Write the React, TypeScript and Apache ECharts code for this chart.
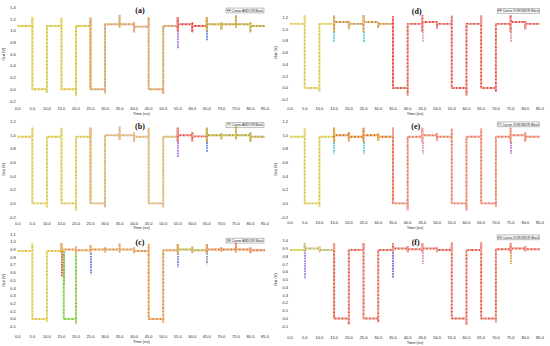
import React, { useEffect, useRef } from "react";
import * as echarts from "echarts";

// ---------- data ----------
const X_MIN = 0;
const X_MAX = 85;
const X_STEP = 5;
// times of the input transitions (ns)
const BOUND_T = [5, 10, 15, 20, 25, 30, 35, 40, 45, 50, 55, 60, 65, 70, 75, 80];

// (a) FF corner AND/OR : level of each 5 ns segment, spike top / bottom at each transition
const A_LEVEL = [1.08, 0, 1.08, 0, 1.08, 0, 1.11, 1.11, 1.07, 0, 1.08, 1.11, 1.08, 1.11, 1.11, 1.11, 1.08];
const A_HI = [1.23, 1.08, 1.22, 1.08, 1.22, 1.11, 1.27, 1.15, 1.23, 1.08, 1.23, 1.15, 1.23, 1.14, 1.27, 1.15];
const A_LO = [0, -0.06, 0, -0.12, 0, -0.07, 1.05, 0.97, 0, -0.08, 1.0, 0.97, 1.0, 1.02, 1.05, 0.97];
const A_GLITCH = [[55, 1.0, 0.7], [65, 1.0, 0.82]];

// (b) TT corner AND/OR
const B_LEVEL = [0.98, 0, 0.98, 0, 0.98, 0, 1.0, 1.0, 0.98, 0, 0.98, 1.0, 0.985, 1.0, 1.0, 1.0, 0.98];
const B_HI = [1.12, 0.98, 1.11, 0.98, 1.11, 1.0, 1.13, 1.05, 1.11, 0.98, 1.11, 1.05, 1.11, 1.03, 1.14, 1.05];
const B_LO = [0, -0.06, 0, -0.11, 0, -0.06, 0.93, 0.9, 0, -0.06, 0.9, 0.91, 0.9, 0.94, 0.94, 0.9];
const B_GLITCH = [[55, 0.9, 0.67], [65, 0.9, 0.75]];

// (c) SS corner AND/OR
const C_LEVEL = [0.88, 0, 0.88, 0.9, 0.89, 0.9, 0.9, 0.9, 0.88, 0, 0.89, 0.9, 0.89, 0.9, 0.9, 0.9, 0.89];
const C_HI = [0.98, 0.88, 0.98, 0.94, 0.96, 0.93, 0.98, 0.93, 0.97, 0.89, 0.97, 0.94, 0.97, 0.93, 0.99, 0.93];
const C_LO = [0, -0.04, 0.85, 0.86, 0.85, 0.86, 0.86, 0.85, 0, -0.05, 0.85, 0.85, 0.85, 0.87, 0.86, 0.85];
const C_GLITCH = [[15, 0.88, 0.55], [15.8, 0.88, 0.46], [25, 0.85, 0.58], [55, 0.85, 0.67], [65, 0.85, 0.71]];
const C_FAIL = [[15.8, 0.88], [15.8, 0], [20, 0], [20, -0.06], [20, 0.89]];

// (d) FF corner XOR/XNOR
const D_LEVEL = [1.09, 0, 1.09, 1.12, 1.09, 1.12, 1.09, 0, 1.09, 1.12, 1.09, 0, 1.09, 0, 1.09, 1.12, 1.09];
const D_HI = [1.23, 1.09, 1.23, 1.14, 1.24, 1.13, 1.22, 1.09, 1.24, 1.13, 1.23, 1.09, 1.23, 1.09, 1.24, 1.14];
const D_LO = [0, -0.06, 0.95, 1.0, 0.95, 1.02, 0, -0.13, 0.95, 1.01, 0, -0.13, 0, -0.07, 0.95, 1.0];
const D_GLITCH = [[15, 0.95, 0.78], [25, 0.95, 0.77], [45, 0.95, 0.78], [75, 0.95, 0.78]];

// (e) TT corner XOR/XNOR
const E_LEVEL = [0.98, 0, 0.98, 1.0, 0.98, 1.0, 0.98, 0, 0.98, 1.0, 0.98, 0, 0.98, 0, 0.98, 1.0, 0.98];
const E_HI = [1.1, 0.98, 1.11, 1.05, 1.11, 1.03, 1.11, 0.98, 1.11, 1.03, 1.1, 0.98, 1.1, 0.98, 1.11, 1.04];
const E_LO = [0, -0.05, 0.9, 0.91, 0.9, 0.92, 0, -0.1, 0.9, 0.92, 0, -0.1, 0, -0.05, 0.9, 0.91];
const E_GLITCH = [[15, 0.9, 0.73], [25, 0.9, 0.73], [45, 0.9, 0.73], [75, 0.9, 0.73]];

// (f) SS corner XOR/XNOR
const F_LEVEL = [0.88, 0.9, 0.88, 0, 0.88, 0, 0.88, 0.9, 0.89, 0.9, 0.88, 0, 0.88, 0, 0.89, 0.9, 0.89];
const F_HI = [0.97, 0.93, 0.97, 0.88, 0.97, 0.88, 0.97, 0.93, 0.97, 0.92, 0.98, 0.88, 0.98, 0.89, 0.97, 0.93];
const F_LO = [0.85, 0.85, 0, -0.08, 0, -0.05, 0.85, 0.85, 0.85, 0.85, 0, -0.08, 0, -0.05, 0.85, 0.86];
const F_GLITCH = [[5, 0.85, 0.51], [35, 0.85, 0.52], [45, 0.85, 0.7], [75, 0.85, 0.7]];

const LEGENDS = [
  "FF Corner AND/OR Block",
  "TT Corner AND/OR Block",
  "SS Corner AND/OR Block",
  "FF Corner XOR/XNOR Block",
  "TT Corner XOR/XNOR Block",
  "SS Corner XOR/XNOR Block",
];
const LETTERS = ["(a)", "(b)", "(c)", "(d)", "(e)", "(f)"];

// ---------- layout / style ----------
const PANELS: any[] = [
  {
    level: A_LEVEL, hi: A_HI, lo: A_LO, glitch: A_GLITCH,
    x: 0, top: 7.3, height: 93.7, yMin: -0.2, yMax: 1.4, yInt: 0.2, hideMax: false, xm: 5, xng: 10,
    title: [140, 10.7], box: [245, 10.5, 38],
    segs: [[0, 25, "#d2bc30", "#ecd870"], [25, 55, "#ccaa48", "#e6aa96"], [55, 65, "#e0342a", "#f09090"], [65, 85, "#b49636", "#d8c060"]],
    gcol: ["#9a68d8", "#5a74e0"],
  },
  {
    level: B_LEVEL, hi: B_HI, lo: B_LO, glitch: B_GLITCH,
    x: 0, top: 121.7, height: 95.3, yMin: -0.2, yMax: 1.2, yInt: 0.2, hideMax: false, xm: 4, xng: 8,
    title: [140, 126], box: [245, 125, 38],
    segs: [[0, 25, "#d4c03c", "#ecdc80"], [25, 55, "#d4b854", "#e8bca4"], [55, 65, "#e04436", "#f09c96"], [65, 85, "#a49c3a", "#d6c466"]],
    gcol: ["#aa68e0", "#5a74e0"],
  },
  {
    level: C_LEVEL, hi: C_HI, lo: C_LO, glitch: C_GLITCH,
    x: 0, top: 234, height: 92.7, yMin: -0.1, yMax: 1.1, yInt: 0.1, hideMax: false, xm: 8, xng: 12,
    title: [140, 242.7], box: [245, 240.7, 38],
    segs: [[0, 15, "#d8c23c", "#ecdc84"], [15, 55, "#de8a34", "#eeb888"], [55, 65, "#a4b440", "#dcb868"], [65, 85, "#de6a2e", "#eeaa7c"]],
    gcol: ["#e02c2c", "#5a6ce0", "#5a6ce0", "#6a7ad0", "#8088a0"],
    fail: C_FAIL,
  },
  {
    level: D_LEVEL, hi: D_HI, lo: D_LO, glitch: D_GLITCH,
    x: 275, top: 5.6, height: 94.1, yMin: -0.2, yMax: 1.4, yInt: 0.2, hideMax: true, xm: 6.6, xng: 11.6,
    title: [416.7, 11], box: [518.5, 11, 42],
    segs: [[0, 15, "#d4c03c", "#ecdc84"], [15, 35, "#c4863a", "#e4b87a"], [35, 85, "#e04428", "#f29a9e"]],
    gcol: ["#48c4d6", "#48c4d6", "#ee98bc", "#de889a"],
  },
  {
    level: E_LEVEL, hi: E_HI, lo: E_LO, glitch: E_GLITCH,
    x: 275, top: 121.7, height: 95.3, yMin: -0.2, yMax: 1.2, yInt: 0.2, hideMax: false, xm: 3.7, xng: 8,
    title: [415.7, 126.7], box: [518.3, 124.3, 42],
    segs: [[0, 15, "#d4c23c", "#ecdc84"], [15, 35, "#de5c28", "#e4b654"], [35, 85, "#e67a36", "#f2a2ac"]],
    gcol: ["#48bcce", "#48bcce", "#de88bc", "#aa68d0"],
  },
  {
    level: F_LEVEL, hi: F_HI, lo: F_LO, glitch: F_GLITCH,
    x: 275, top: 232.9, height: 93.4, yMin: -0.1, yMax: 1.1, yInt: 0.1, hideMax: true, xm: 9, xng: 12,
    title: [415.7, 242.3], box: [518.3, 237.3, 42],
    segs: [[0, 5, "#d8c238", "#ecdc84"], [5, 15, "#b4aa58", "#dcd49c"], [15, 85, "#e05434", "#f29e9e"]],
    gcol: ["#9a68e0", "#5a5ae0", "#de88bc", "#cc9a38"],
  },
];

const DASH = 1.8;
const LINE_W = 1.9;

function wave(level: number[], hi: number[], lo: number[]) {
  const pts: number[][] = [[X_MIN, level[0]]];
  BOUND_T.forEach((t, i) => {
    const prev = level[i];
    const next = level[i + 1];
    if (next > prev) pts.push([t, prev], [t, lo[i]], [t, hi[i]], [t, next]);
    else pts.push([t, prev], [t, hi[i]], [t, lo[i]], [t, next]);
  });
  pts.push([X_MAX, level[level.length - 1]]);
  return pts;
}

const fmt = (v: number) => (Math.abs(v) < 1e-9 ? "0.0" : v.toFixed(1));

function lineSeries(i: number, data: number[][], color: string, offset: number, z: number) {
  return {
    type: "line",
    xAxisIndex: i,
    yAxisIndex: i,
    data,
    symbol: "none",
    showSymbol: false,
    silent: true,
    z,
    lineStyle: { color, width: LINE_W, type: [DASH, DASH], dashOffset: offset },
  };
}

function buildOption() {
  const grid: any[] = [];
  const xAxis: any[] = [];
  const yAxis: any[] = [];
  const series: any[] = [];
  const graphic: any[] = [];
  const lab = { fontSize: 4, color: "#222", fontFamily: "Liberation Sans" };

  PANELS.forEach((p: any, i) => {
    grid.push({ left: p.x + 15, width: 250, top: p.top, height: p.height });
    xAxis.push({
      type: "value", gridIndex: i, min: X_MIN, max: X_MAX, interval: X_STEP,
      axisLine: { show: false }, axisTick: { show: false }, splitLine: { show: false },
      axisLabel: { ...lab, margin: p.xm, formatter: fmt },
      name: "Time (ns)", nameLocation: "middle", nameGap: p.xng, nameTextStyle: lab,
    });
    yAxis.push({
      type: "value", gridIndex: i, min: p.yMin, max: p.yMax, interval: p.yInt,
      axisLine: { show: false }, axisTick: { show: false }, splitLine: { show: false },
      axisLabel: { ...lab, margin: 2, formatter: fmt, showMaxLabel: !p.hideMax },
      name: "Out (V)", nameLocation: "middle", nameGap: 10, nameTextStyle: lab,
    });

    // glitches (behind)
    series.push({
      type: "lines", coordinateSystem: "cartesian2d", xAxisIndex: i, yAxisIndex: i, silent: true, z: 1,
      lineStyle: { width: 1.6, opacity: 1, type: [DASH, 0.8] },
      data: p.glitch.map((g: number[], k: number) => ({
        coords: [[g[0], g[1]], [g[0], g[2]]],
        lineStyle: { color: p.gcol[k] },
      })),
    });
    if (p.fail) {
      series.push(lineSeries(i, p.fail, "#6cc834", 0, 2), lineSeries(i, p.fail, "#b0dc70", DASH, 2));
    }
    const pts = wave(p.level, p.hi, p.lo);
    p.segs.forEach((s: any[], k: number) => {
      const d = pts.filter((q) => q[0] >= s[0] && q[0] <= s[1]);
      series.push(lineSeries(i, d, s[2], 0, 3 + k), lineSeries(i, d, s[3], DASH, 3 + k));
    });

    graphic.push({
      type: "text", x: p.title[0], y: p.title[1], silent: true,
      style: { text: LETTERS[i], fontSize: 8, fontWeight: "bold", fontFamily: "Liberation Serif", fill: "#111", align: "center", verticalAlign: "middle" },
    });
    const [bx, by, bw] = p.box;
    graphic.push({
      type: "rect", silent: true,
      shape: { x: bx - bw / 2, y: by - 2.4, width: bw, height: 4.8 },
      style: { fill: "#fff", stroke: "#555", lineWidth: 0.4 },
    });
    graphic.push({
      type: "text", x: bx, y: by, silent: true,
      style: { text: LEGENDS[i], fontSize: 3.2, fontFamily: "Liberation Sans", fill: "#111", align: "center", verticalAlign: "middle" },
    });
  });

  return { animation: false, backgroundColor: "#fff", grid, xAxis, yAxis, series, graphic };
}

export default function App() {
  const ref = useRef<HTMLDivElement>(null);
  useEffect(() => {
    const chart = echarts.init(ref.current as HTMLDivElement, null, { renderer: "svg" });
    chart.setOption(buildOption() as any);
    return () => chart.dispose();
  }, []);
  return <div ref={ref} style={{ position: "fixed", left: 0, top: 0, width: 550, height: 346 }} />;
}
